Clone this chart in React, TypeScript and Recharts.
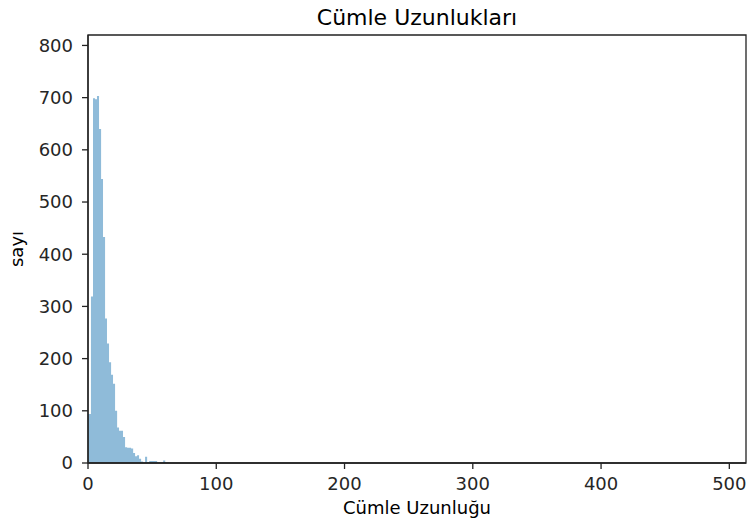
import React from "react";
import { AreaChart, Area, XAxis, YAxis, ReferenceArea } from "recharts";

// Histogram bin left edges (sentence length) and counts
const binEdges = [
  0, 2.3, 3.9, 5.5, 7.0, 8.6, 10.2, 11.7, 13.3, 14.8, 16.4, 18.0, 19.5, 21.1,
  22.7, 24.2, 25.8, 27.3, 28.9, 30.5, 32.0, 33.6, 35.2, 36.7, 38.3, 39.8, 41.4,
  43.0, 44.5, 46.1, 47.7, 49.2, 50.8, 52.3, 53.9, 55.5, 57.0, 58.6, 60.2, 61.7,
  63.3,
];
const binCounts = [
  94, 319, 699, 697, 703, 640, 544, 433, 277, 229, 193, 169, 152, 100, 68, 62,
  62, 50, 30, 29, 29, 28, 19, 13, 15, 8, 3, 0, 12, 2, 4, 4, 4, 4, 1, 1, 1, 5, 1,
  1, 0,
];
const xTicks = [0, 100, 200, 300, 400, 500];
const yTicks = [0, 100, 200, 300, 400, 500, 600, 700, 800];
const xDomain = [0, 513];
const yDomain = [0, 820];

const title = "Cümle Uzunlukları";
const xLabel = "Cümle Uzunluğu";
const yLabel = "sayı";

const data = binEdges.map((x, i) => ({ x, count: binCounts[i] }));

const FONT = "DejaVu Sans";
const tickStyle = { fontFamily: FONT, fontSize: 18, fill: "#262626" };
const spine = { stroke: "#222", strokeWidth: 1.3 };

export default function App() {
  const W = 747;
  const H = 531;
  return (
    <div style={{ position: "absolute", left: 0, top: 0, width: W, height: H, background: "#fff" }}>
      <AreaChart
        width={W}
        height={H}
        data={data}
        margin={{ top: 35, right: 1, bottom: 0, left: 0 }}
      >
        <XAxis
          dataKey="x"
          type="number"
          domain={xDomain}
          allowDataOverflow
          ticks={xTicks}
          interval={0}
          height={68}
          tickSize={6}
          tickMargin={8}
          tick={tickStyle}
          axisLine={spine}
          tickLine={spine}
        />
        <YAxis
          type="number"
          domain={yDomain}
          allowDataOverflow
          ticks={yTicks}
          interval={0}
          width={88}
          tickSize={6}
          tickMargin={9}
          tick={tickStyle}
          axisLine={spine}
          tickLine={spine}
        />
        <Area
          type="stepAfter"
          dataKey="count"
          stroke="none"
          fill="#1f77b4"
          fillOpacity={0.5}
          isAnimationActive={false}
          dot={false}
          activeDot={false}
        />
        <ReferenceArea
          x1={xDomain[0]}
          x2={xDomain[1]}
          y1={yDomain[0]}
          y2={yDomain[1]}
          fill="none"
          stroke="#222"
          strokeWidth={1.3}
          ifOverflow="visible"
        />
      </AreaChart>
      <svg
        width={W}
        height={H}
        style={{ position: "absolute", left: 0, top: 0, pointerEvents: "none" }}
      >
        <text x={417} y={25} textAnchor="middle" fontFamily={FONT} fontSize={22} fill="#000">
          {title}
        </text>
        <text x={417} y={514} textAnchor="middle" fontFamily={FONT} fontSize={18} fill="#000">
          {xLabel}
        </text>
        <text
          transform="translate(23,249) rotate(-90)"
          textAnchor="middle"
          fontFamily={FONT}
          fontSize={18}
          fill="#000"
        >
          {yLabel}
        </text>
      </svg>
    </div>
  );
}
